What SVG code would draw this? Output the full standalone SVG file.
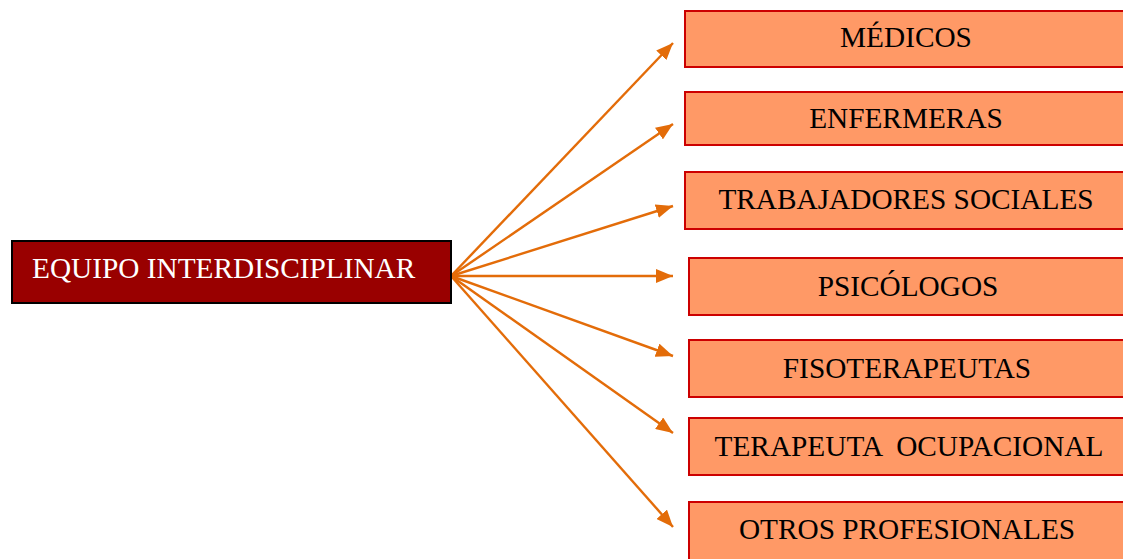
<svg xmlns="http://www.w3.org/2000/svg" width="1123" height="559" viewBox="0 0 1123 559">
  <style>
    .hub { fill: #990000; stroke: #000000; stroke-width: 2; }
    .hub-label { fill: #ffffff; font-family: "Liberation Serif", "Times New Roman", serif; font-size: 29.3px; }
    .role { fill: #FF9966; stroke: #CC0000; stroke-width: 2; }
    .role-label { fill: #000000; font-family: "Liberation Serif", "Times New Roman", serif; font-size: 29.3px; text-anchor: middle; white-space: pre; }
    .link { stroke: #E36C09; stroke-width: 2.4; fill: none; marker-end: url(#arrow); }
  </style>
  <defs>
    <marker id="arrow" markerUnits="userSpaceOnUse" markerWidth="18" markerHeight="14" viewBox="0 0 18 14" refX="17" refY="7" orient="auto">
      <path d="M0,0 L17,7 L0,14 Z" fill="#E36C09"/>
    </marker>
  </defs>

  <rect width="1123" height="559" fill="#ffffff"/>

  <g id="connectors">
    <line class="link" x1="451" y1="276" x2="673" y2="43"/>
    <line class="link" x1="451" y1="276" x2="673" y2="124"/>
    <line class="link" x1="451" y1="276" x2="673" y2="206"/>
    <line class="link" x1="451" y1="276" x2="673" y2="276"/>
    <line class="link" x1="451" y1="276" x2="673" y2="356"/>
    <line class="link" x1="451" y1="276" x2="673" y2="433"/>
    <line class="link" x1="451" y1="276" x2="673" y2="527"/>
  </g>

  <g id="equipo">
    <rect class="hub" x="12" y="241" width="439" height="62"/>
    <text class="hub-label" x="32" y="278">EQUIPO INTERDISCIPLINAR</text>
  </g>

  <g id="medicos">
    <rect class="role" x="685" y="11" width="444" height="56"/>
    <text class="role-label" x="906" y="47">MÉDICOS</text>
  </g>

  <g id="enfermeras">
    <rect class="role" x="685" y="92" width="444" height="53"/>
    <text class="role-label" x="906" y="128">ENFERMERAS</text>
  </g>

  <g id="trabajadores-sociales">
    <rect class="role" x="685" y="172" width="444" height="57"/>
    <text class="role-label" x="906" y="209">TRABAJADORES SOCIALES</text>
  </g>

  <g id="psicologos">
    <rect class="role" x="689" y="258" width="444" height="57"/>
    <text class="role-label" x="908" y="296">PSICÓLOGOS</text>
  </g>

  <g id="fisoterapeutas">
    <rect class="role" x="689" y="340" width="444" height="57"/>
    <text class="role-label" x="907" y="378">FISOTERAPEUTAS</text>
  </g>

  <g id="terapeuta-ocupacional">
    <rect class="role" x="689" y="418" width="444" height="57"/>
    <text class="role-label" x="909" y="456" xml:space="preserve">TERAPEUTA  OCUPACIONAL</text>
  </g>

  <g id="otros-profesionales">
    <rect class="role" x="689" y="502" width="444" height="70"/>
    <text class="role-label" x="907" y="539">OTROS PROFESIONALES</text>
  </g>
</svg>
